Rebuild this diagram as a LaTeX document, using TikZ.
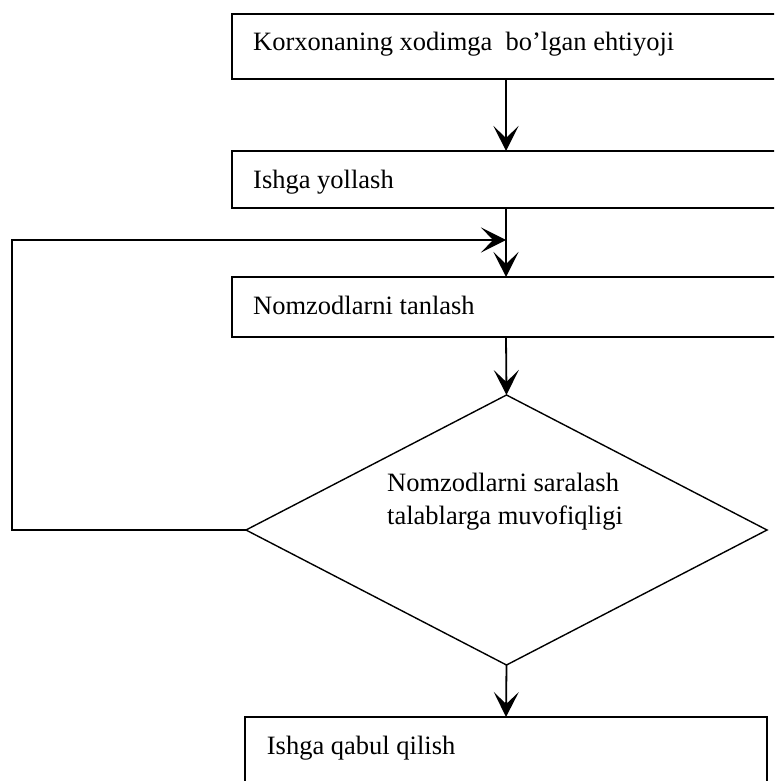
\documentclass[tikz,border=0pt]{standalone}
\usepackage{fontspec}
\setmainfont{Liberation Serif}
\usetikzlibrary{arrows.meta,shapes.geometric}
\begin{document}
\begin{tikzpicture}[x=1pt,y=-1pt,
  box/.style={draw,line width=1.8pt,rectangle,inner sep=0,outer sep=0},
  dia/.style={draw,line width=1.4pt,diamond,inner sep=0,outer sep=0,minimum width=521pt,minimum height=270pt},
  lbl/.style={anchor=base west,inner sep=0,font=\fontsize{26.5}{32.3}\selectfont,align=left},
  arr/.style={line width=1.8pt,-{Stealth[length=25pt,width=25pt,inset=12pt]}},
  ln/.style={line width=1.8pt}]
\clip (0,0) rectangle (774,781);
\fill[white] (0,0) rectangle (774,781);
\node[box,minimum width=548pt,minimum height=65pt] (b1) at (506,46.5) {};
\node[box,minimum width=548pt,minimum height=57pt] (b2) at (506,179.5) {};
\node[box,minimum width=548pt,minimum height=60pt] (b3) at (506,307) {};
\node[dia] (d) at (506.5,530) {};
\node[box,minimum width=522pt,minimum height=80pt] (b4) at (506,757) {};
\node[lbl] (t1) at (253,50.7) {Korxonaning xodimga~ bo’lgan ehtiyoji};
\node[lbl] (t2) at (253,188) {Ishga yollash};
\node[lbl] (t3) at (253,314) {Nomzodlarni tanlash};
\node[lbl] (td1) at (387,491.7) {Nomzodlarni saralash};
\node[lbl] (td2) at (387,524) {talablarga muvofiqligi};
\node[lbl] (t4) at (266.7,754) {Ishga qabul qilish};
\coordinate (j) at (506,240);
\coordinate (lc) at (12,240);
\draw[arr] (b1.south) -- (b2.north);
\draw[arr] (b2.south) -- (b3.north);
\draw[arr] (b3.south) -- (d.north);
\draw[arr] (d.south) -- (b4.north);
\draw[arr] (d.west) -| (lc) -- (j);
\end{tikzpicture}
\end{document}
